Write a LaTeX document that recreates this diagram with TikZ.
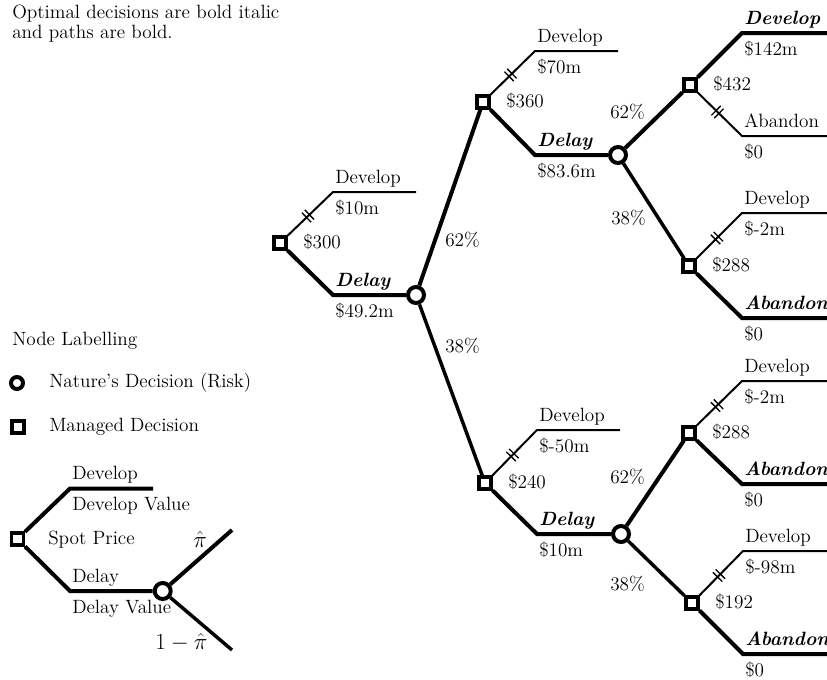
\documentclass[tikz,border=0pt]{standalone}
\usepackage{amsmath,amssymb}
\usepackage{tikz}
\usetikzlibrary{positioning, decorations.markings}

\begin{document}
\begin{tikzpicture}[
        x=0.75pt, y=-0.75pt,
        decision/.style={rectangle, draw, fill=white, line width=2.5pt, minimum size=8.8pt, inner sep=0pt},
        chance/.style={circle, draw, fill=white, line width=3pt, minimum size=12pt, inner sep=0pt},
        thinpath/.style={line width=1.5pt},
        optpath/.style={line width=3pt},
        riskpath/.style={line width=2.6pt},
        pruned/.style={postaction=decorate, decoration={markings, mark=at position 0.45 with {\draw[line width=1pt] (-1.5pt,-5pt) -- (-1.5pt,5pt) (1.5pt,-5pt) -- (1.5pt,5pt);}}},
        lbl/.style={anchor=base west, inner sep=0pt, font=\Large},
        lblup/.style={lbl, xshift=1.5pt, yshift=6.75pt},
        lbldown/.style={lbl, xshift=1.5pt, yshift=-16.5pt},
        lblval/.style={lbl, xshift=17.25pt, yshift=-3.75pt},
        opt/.style={font=\Large\bfseries\itshape}
    ]
    \useasboundingbox (0,0) rectangle (827,679);

    % note and legend
    \node[anchor=north west, inner sep=0pt, align=left, font=\Large] (note) at (12,5) {Optimal decisions are bold italic\\[-3pt]and paths are bold.};
    \node[lbl] (legtitle) at (12,345) {Node Labelling};
    \node[chance, minimum size=9pt] (legchance) at (17,383) {};
    \node[lbl] (legchancetxt) at (49,387) {Nature's Decision (Risk)};
    \node[decision, line width=3pt, minimum size=9.5pt] (legdecision) at (18,427) {};
    \node[lbl] (legdecisiontxt) at (49,431) {Managed Decision};

    % legend tree
    \node[decision] (ls) at (17.5,539) {};
    \node[chance] (ln) at (162.7,591) {};
    \coordinate (lsu) at (70,488.5);
    \coordinate (lsue) at (153,488.5);
    \coordinate (lsl) at (70,591);
    \coordinate (lnu) at (232,530);
    \coordinate (lnl) at (232,650);
    \draw[optpath] (ls) -- (lsu) -- (lsue);
    \draw[optpath] (ls) -- (lsl) -- (ln);
    \draw[optpath] (ln) -- (lnu);
    \draw[riskpath] (ln) -- (lnl);
    \node[lblup] (lsdev) at (lsu) {Develop};
    \node[lbldown] (lsdevval) at (lsu) {Develop Value};
    \node[lbl] (lsspot) at (48,544) {Spot Price};
    \node[lblup] (lsdel) at (lsl) {Delay};
    \node[lbldown] (lsdelval) at (lsl) {Delay Value};
    \node[lbl, font=\LARGE] (lnp) at (193,547) {$\hat{\pi}$};
    \node[lbl, font=\LARGE] (lnq) at (155,649) {$1-\hat{\pi}$};

    % tree nodes
    \node[decision] (d0) at (280,243) {};
    \node[chance] (n0) at (416,295) {};
    \node[decision] (d1) at (483,102) {};
    \node[decision] (d2) at (485,483) {};
    \node[chance] (n1) at (618,155) {};
    \node[chance] (n2) at (621,534) {};
    \node[decision] (d3) at (690,85) {};
    \node[decision] (d4) at (689,266) {};
    \node[decision] (d5) at (689,433) {};
    \node[decision] (d6) at (692,603) {};

    \coordinate (c0u) at (333,192);  \coordinate (e0u) at (416,192);
    \coordinate (c0l) at (333,295);
    \coordinate (c1u) at (535,51);   \coordinate (e1u) at (618,51);
    \coordinate (c1l) at (535,155);
    \coordinate (c2u) at (537,430);  \coordinate (e2u) at (620,430);
    \coordinate (c2l) at (537,534);
    \coordinate (c3u) at (742,33);   \coordinate (e3u) at (827,33);
    \coordinate (c3l) at (742,136);  \coordinate (e3l) at (827,136);
    \coordinate (c4u) at (742,213);  \coordinate (e4u) at (827,213);
    \coordinate (c4l) at (742,318);  \coordinate (e4l) at (827,318);
    \coordinate (c5u) at (742,381);  \coordinate (e5u) at (827,381);
    \coordinate (c5l) at (742,484);  \coordinate (e5l) at (827,484);
    \coordinate (c6u) at (743,551);  \coordinate (e6u) at (827,551);
    \coordinate (c6l) at (743,654);  \coordinate (e6l) at (827,654);

    % branches
    \draw[thinpath] (d0) -- (c0u) -- (e0u);
    \path[pruned] (d0) -- (c0u);
    \draw[optpath] (d0) -- (c0l) -- (n0);
    \draw[optpath] (n0) -- (d1);
    \draw[riskpath] (n0) -- (d2);

    \draw[thinpath] (d1) -- (c1u) -- (e1u);
    \path[pruned] (d1) -- (c1u);
    \draw[optpath] (d1) -- (c1l) -- (n1);
    \draw[optpath] (n1) -- (d3);
    \draw[riskpath] (n1) -- (d4);

    \draw[thinpath] (d2) -- (c2u) -- (e2u);
    \path[pruned] (d2) -- (c2u);
    \draw[optpath] (d2) -- (c2l) -- (n2);
    \draw[optpath] (n2) -- (d5);
    \draw[riskpath] (n2) -- (d6);

    \draw[optpath] (d3) -- (c3u) -- (e3u);
    \draw[thinpath] (d3) -- (c3l) -- (e3l);
    \path[pruned] (d3) -- (c3l);
    \draw[thinpath] (d4) -- (c4u) -- (e4u);
    \path[pruned] (d4) -- (c4u);
    \draw[optpath] (d4) -- (c4l) -- (e4l);
    \draw[thinpath] (d5) -- (c5u) -- (e5u);
    \path[pruned] (d5) -- (c5u);
    \draw[optpath] (d5) -- (c5l) -- (e5l);
    \draw[thinpath] (d6) -- (c6u) -- (e6u);
    \path[pruned] (d6) -- (c6u);
    \draw[optpath] (d6) -- (c6l) -- (e6l);

    % labels
    \node[lblup] (l0u) at (c0u) {Develop};
    \node[lbldown] (v0u) at (c0u) {\$10m};
    \node[lblval] (v0) at (d0) {\$300};
    \node[lblup, opt] (l0l) at (c0l) {Delay};
    \node[lbldown] (v0l) at (c0l) {\$49.2m};
    \node[lbl] (p0u) at (445,246) {62\%};
    \node[lbl] (p0l) at (445,352) {38\%};

    \node[lblup] (l1u) at (c1u) {Develop};
    \node[lbldown] (v1u) at (c1u) {\$70m};
    \node[lblval] (v1) at (d1) {\$360};
    \node[lblup, opt] (l1l) at (c1l) {Delay};
    \node[lbldown] (v1l) at (c1l) {\$83.6m};
    \node[lbl] (p1u) at (610,118) {62\%};
    \node[lbl] (p1l) at (611,224) {38\%};

    \node[lblup] (l2u) at (c2u) {Develop};
    \node[lbldown] (v2u) at (c2u) {\$-50m};
    \node[lblval] (v2) at (d2) {\$240};
    \node[lblup, opt] (l2l) at (c2l) {Delay};
    \node[lbldown] (v2l) at (c2l) {\$10m};
    \node[lbl] (p2u) at (610,483) {62\%};
    \node[lbl] (p2l) at (610,590) {38\%};

    \node[lblup, opt] (l3u) at (c3u) {Develop};
    \node[lbldown] (v3u) at (c3u) {\$142m};
    \node[lblval] (v3) at (d3) {\$432};
    \node[lblup] (l3l) at (c3l) {Abandon};
    \node[lbldown] (v3l) at (c3l) {\$0};

    \node[lblup] (l4u) at (c4u) {Develop};
    \node[lbldown] (v4u) at (c4u) {\$-2m};
    \node[lblval] (v4) at (d4) {\$288};
    \node[lblup, opt] (l4l) at (c4l) {Abandon};
    \node[lbldown] (v4l) at (c4l) {\$0};

    \node[lblup] (l5u) at (c5u) {Develop};
    \node[lbldown] (v5u) at (c5u) {\$-2m};
    \node[lblval] (v5) at (d5) {\$288};
    \node[lblup, opt] (l5l) at (c5l) {Abandon};
    \node[lbldown] (v5l) at (c5l) {\$0};

    \node[lblup] (l6u) at (c6u) {Develop};
    \node[lbldown] (v6u) at (c6u) {\$-98m};
    \node[lblval] (v6) at (d6) {\$192};
    \node[lblup, opt] (l6l) at (c6l) {Abandon};
    \node[lbldown] (v6l) at (c6l) {\$0};
\end{tikzpicture}
\end{document}
